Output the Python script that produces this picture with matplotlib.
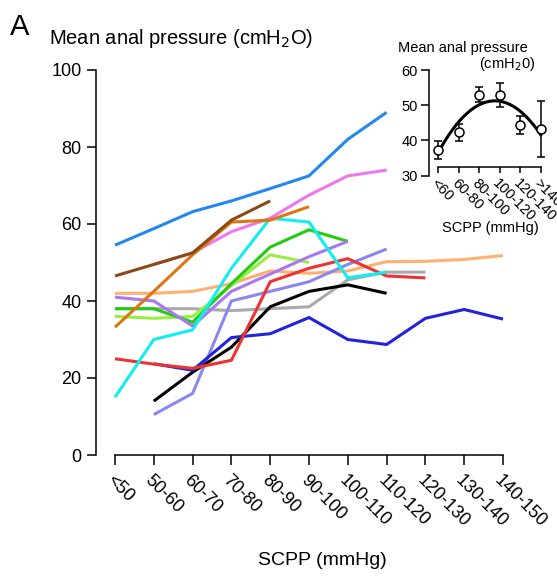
import numpy as np
import matplotlib
matplotlib.use('Agg')
import matplotlib.pyplot as plt

plt.rcParams['font.family'] = 'Liberation Sans'

nan = np.nan

# main panel: SCPP bins and one trace per animal
scpp_bins = ['<50', '50-60', '60-70', '70-80', '80-90', '90-100',
             '100-110', '110-120', '120-130', '130-140', '140-150']

blue_top = [54.5, 58.8, 63.2, 66.0, 69.2, 72.5, 82.0, 89.0, nan, nan, nan]
pink = [nan, 49.5, 52.5, 58.0, 61.5, 67.5, 72.5, 74.0, nan, nan, nan]
brown = [46.5, 49.5, 52.5, 61.0, 66.0, nan, nan, nan, nan, nan, nan]
orange = [33.2, 42.5, 52.0, 60.5, 61.0, 64.5, nan, nan, nan, nan, nan]
cyan = [15.0, 30.0, 32.5, 48.5, 61.5, 60.5, 46.0, 47.5, nan, nan, nan]
green = [38.0, 38.0, 34.5, 44.5, 54.0, 58.5, 55.5, nan, nan, nan, nan]
light_green = [36.0, 35.5, 36.0, 44.0, 52.0, 50.0, nan, nan, nan, nan, nan]
purple = [41.0, 40.0, 33.5, 42.5, 47.0, 51.5, 55.5, nan, nan, nan, nan]
periwinkle = [nan, 10.5, 16.0, 40.0, 42.5, 45.0, 49.5, 53.5, nan, nan, nan]
black = [nan, 14.0, 21.5, 28.0, 38.5, 42.5, 44.2, 42.0, nan, nan, nan]
gray = [38.0, 38.0, 38.0, 37.5, 38.0, 38.5, 45.5, 47.5, 47.5, nan, nan]
peach = [42.0, 42.0, 42.5, 44.5, 47.8, 47.2, 47.8, 50.2, 50.3, 50.8, 51.8]
red = [25.0, 23.6, 22.5, 24.6, 45.0, 48.5, 51.0, 46.5, 46.0, nan, nan]
deep_blue = [nan, 23.7, 22.0, 30.5, 31.5, 35.7, 30.0, 28.7, 35.5, 37.8, 35.3]

# inset: group means
inset_bins = ['<60', '60-80', '80-100', '100-120', '120-140', '>140']
inset_mean = [37.2, 42.3, 53.0, 52.8, 44.4, 43.2]
inset_err = [2.6, 2.5, 2.2, 3.4, 2.5, 8.0]

traces = [
    (peach, '#ffb070'), (gray, '#aaaaaa'), (light_green, '#99ee44'),
    (green, '#22cc11'), (purple, '#aa77ee'), (periwinkle, '#8888ee'),
    (black, 'black'), (deep_blue, '#2222dd'), (red, '#ee3333'),
    (cyan, '#11eeee'), (pink, '#ee77ee'), (orange, '#dd7711'),
    (brown, '#8b4a13'), (blue_top, '#2288ee'),
]

fig = plt.figure(figsize=(5.57, 5.86), dpi=100)
W, H = 557.0, 586.0

ax = fig.add_axes([115 / W, 131 / H, 388 / W, 385 / H])
x = np.arange(len(scpp_bins))
for vals, col in traces:
    ax.plot(x, vals, color=col, lw=2.2, clip_on=False, solid_capstyle='butt')

ax.set_xlim(0, 10)
ax.set_ylim(0, 100)
for s in ['top', 'right']:
    ax.spines[s].set_visible(False)
ax.spines['left'].set_position(('outward', 13.7))
ax.spines['left'].set_linewidth(1.1)
ax.spines['bottom'].set_linewidth(1.1)
ax.set_yticks([0, 20, 40, 60, 80, 100])
ax.set_xticks(x)
ax.set_xticklabels(scpp_bins, rotation=-45, ha='left', va='top',
                   rotation_mode='anchor')
ax.tick_params(axis='y', length=6.5, width=1.1, labelsize=13, pad=4)
ax.tick_params(axis='x', length=7.2, width=1.1, labelsize=13, pad=5)

fig.text(10 / W, 1 - 35 / H, 'A', fontsize=21, va='baseline')
fig.text(49 / W, 1 - 43.5 / H, 'Mean anal pressure (cmH$_2$O)', fontsize=14.5,
         va='baseline')
fig.text(322 / W, 1 - 565 / H, 'SCPP (mmHg)', fontsize=14, ha='center',
         va='baseline')

# inset
axi = fig.add_axes([438 / W, (H - 175.7) / H, 102.7 / W, 105.7 / H])
xi = np.arange(len(inset_bins))
coef = np.polyfit(xi, inset_mean, 2)
xf = np.linspace(0, 5, 100)
axi.plot(xf, np.polyval(coef, xf), color='black', lw=2.2, clip_on=False)
axi.errorbar(xi, inset_mean, yerr=inset_err, fmt='o', ms=6.5, mfc='white',
             mec='black', mew=1.1, ecolor='black', elinewidth=1.1, capsize=3.2,
             capthick=1.1, clip_on=False, zorder=3)
axi.set_xlim(0, 5)
axi.set_ylim(30, 60)
for s in ['top', 'right']:
    axi.spines[s].set_visible(False)
axi.spines['left'].set_position(('outward', 6.5))
axi.spines['bottom'].set_position(('data', 32.6))
axi.spines['left'].set_linewidth(1.1)
axi.spines['bottom'].set_linewidth(1.1)
axi.set_yticks([30, 40, 50, 60])
axi.set_xticks(xi)
axi.set_xticklabels(inset_bins, rotation=-45, ha='left', va='top',
                    rotation_mode='anchor')
axi.tick_params(axis='y', length=6, width=1.1, labelsize=10.5, pad=2)
axi.tick_params(axis='x', length=4.3, width=1.1, labelsize=10.5, pad=3)

fig.text(398 / W, 1 - 52 / H, 'Mean anal pressure', fontsize=10.5, va='baseline')
fig.text(479 / W, 1 - 68 / H, '(cmH$_2$0)', fontsize=10.5, va='baseline')
fig.text(490 / W, 1 - 232 / H, 'SCPP (mmHg)', fontsize=10.5, ha='center',
         va='baseline')

fig.savefig('out.png', dpi=100)
